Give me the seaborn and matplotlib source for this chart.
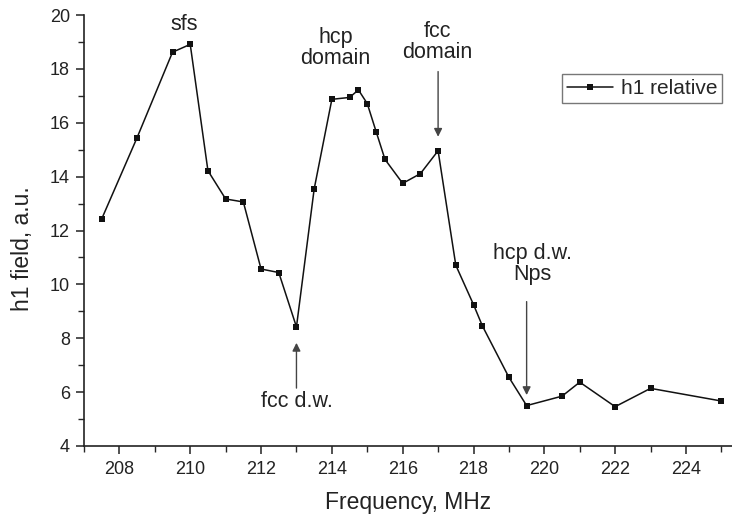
import matplotlib
matplotlib.use("Agg")
import matplotlib.pyplot as plt
import seaborn as sns
import pandas as pd
from matplotlib.ticker import MultipleLocator

freq = [207.5, 208.5, 209.5, 210, 210.5, 211, 211.5, 212, 212.5, 213, 213.5,
        214, 214.5, 214.75, 215, 215.25, 215.5, 216, 216.5, 217, 217.5, 218,
        218.25, 219, 219.5, 220.5, 221, 222, 223, 225]
h1 = [12.43, 15.45, 18.62, 18.91, 14.22, 13.17, 13.06, 10.57, 10.44, 8.42,
      13.54, 16.87, 16.94, 17.22, 16.71, 15.67, 14.64, 13.75, 14.11, 14.96,
      10.71, 9.25, 8.46, 6.55, 5.5, 5.85, 6.37, 5.46, 6.14, 5.67]
series_name = "h1 relative"

df = pd.DataFrame({"Frequency": freq, "h1": h1, "series": series_name})

sns.set_theme(style="ticks")
plt.rcParams["font.family"] = ["Liberation Sans", "DejaVu Sans"]

fig = plt.figure(figsize=(7.32, 5.15), dpi=100)
ax = fig.add_axes([84 / 732, 1 - 446 / 515, 1 - 84 / 732, 431 / 515])

sns.lineplot(data=df, x="Frequency", y="h1", hue="series", palette=["#111111"],
             marker="s", markersize=4, markeredgewidth=0, linewidth=1.1,
             ax=ax, legend=True)

ax.set_xlim(207, 225.3)
ax.set_ylim(4, 20)
ax.xaxis.set_major_locator(MultipleLocator(2))
ax.xaxis.set_minor_locator(MultipleLocator(1))
ax.yaxis.set_major_locator(MultipleLocator(2))
ax.yaxis.set_minor_locator(MultipleLocator(1))
ax.tick_params(which="major", direction="out", length=6, width=1.1, labelsize=13,
               colors="#222222", pad=4)
ax.tick_params(axis="x", which="major", pad=5)
ax.tick_params(which="minor", direction="out", length=4, width=1.0)
for s in ["top", "right"]:
    ax.spines[s].set_visible(False)
for s in ["left", "bottom"]:
    ax.spines[s].set_linewidth(1.2)
    ax.spines[s].set_color("#222222")

ax.set_xlabel("Frequency, MHz", fontsize=16.5, color="#222222", labelpad=9)
ax.set_ylabel("h1 field, a.u.", fontsize=16.5, color="#222222")
ax.yaxis.set_label_coords(-0.077, 0.457)

leg = ax.legend(loc="upper right", bbox_to_anchor=(0.985, 0.863), borderaxespad=0,
                fontsize=15, frameon=True, fancybox=False, handlelength=2.2,
                handletextpad=0.35, borderpad=0.25)
leg.get_frame().set_edgecolor("#555555")
leg.get_frame().set_linewidth(1.0)

fs = 15.5
tc = "#222222"
ax.text(209.83, 19.63, "sfs", fontsize=fs, ha="center", va="center", color=tc)
ax.text(214.1, 18.77, "hcp\ndomain", fontsize=fs, ha="center", va="center", color=tc, linespacing=1.0)
ax.text(216.98, 19.0, "fcc\ndomain", fontsize=fs, ha="center", va="center", color=tc, linespacing=1.0)
ax.text(213.0, 5.64, "fcc d.w.", fontsize=fs, ha="center", va="center", color=tc)
ax.text(219.67, 10.76, "hcp d.w.\nNps", fontsize=fs, ha="center", va="center", color=tc, linespacing=1.0)

ap = dict(arrowstyle="-|>", color="#444444", lw=1.0, mutation_scale=12, shrinkA=0, shrinkB=0)
ax.annotate("", xy=(217.0, 15.48), xytext=(217.0, 17.9), arrowprops=ap)
ax.annotate("", xy=(213.0, 7.83), xytext=(213.0, 6.15), arrowprops=ap)
ax.annotate("", xy=(219.5, 5.89), xytext=(219.5, 9.36), arrowprops=ap)

fig.savefig("out.png", dpi=100)
